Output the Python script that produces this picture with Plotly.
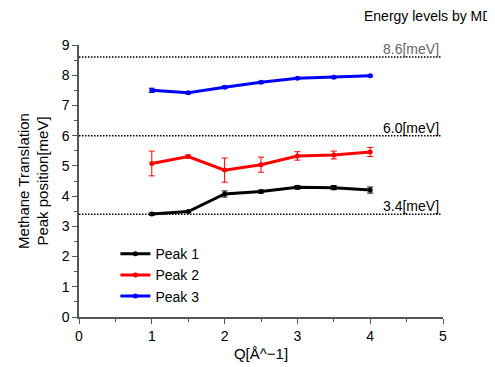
import plotly.graph_objects as go

q = [1.0, 1.5, 2.0, 2.5, 3.0, 3.5, 4.0]
peak1 = [3.41, 3.49, 4.07, 4.15, 4.29, 4.28, 4.20]
peak1_err = [0.04, 0.03, 0.10, 0.05, 0.06, 0.07, 0.10]
peak2 = [5.08, 5.31, 4.86, 5.04, 5.33, 5.36, 5.46]
peak2_err = [0.41, 0.05, 0.40, 0.25, 0.14, 0.13, 0.15]
peak3 = [7.50, 7.42, 7.60, 7.77, 7.90, 7.93, 7.98]
peak3_err = [0.07, 0.04, 0.04, 0.03, 0.03, 0.03, 0.03]

levels = [8.6, 6.0, 3.4]
level_labels = ["8.6[meV]", "6.0[meV]", "3.4[meV]"]
level_colors = ["#666666", "black", "black"]

series = [("Peak 1", peak1, peak1_err, "black"),
          ("Peak 2", peak2, peak2_err, "red"),
          ("Peak 3", peak3, peak3_err, "blue")]

FONT = "Liberation Sans, Arial, sans-serif"
fig = go.Figure()
for name, y, e, c in series:
    fig.add_trace(go.Scatter(
        x=q, y=y, name=name, mode="lines+markers",
        line=dict(color=c, width=3), marker=dict(color=c, size=5),
        error_y=dict(type="data", array=e, visible=True, color=c, thickness=1, width=3)))

for lv, lab, col in zip(levels, level_labels, level_colors):
    fig.add_shape(type="line", x0=0, x1=4.97, y0=lv, y1=lv, xref="x", yref="y",
                  line=dict(color="black", width=1.5, dash="1.5px,1.5px"))
    fig.add_annotation(x=4.97, y=lv, xref="x", yref="y", text=lab, showarrow=False,
                       xanchor="right", yanchor="bottom", yshift=-2,
                       font=dict(size=14, color=col, family=FONT))

fig.add_annotation(x=1.0, y=1.0, xref="paper", yref="paper", yshift=19, xshift=51,
                   text="Energy levels by MD", showarrow=False, xanchor="right",
                   yanchor="bottom", font=dict(size=14, color="black", family=FONT))
fig.add_annotation(x=4.65, y=9.07, xref="x", yref="y", ax=0, ay=-16, text="",
                   showarrow=True, arrowhead=2, arrowsize=1, arrowwidth=1, arrowcolor="black")

axis_common = dict(showline=True, linecolor="#555555", linewidth=1.5, ticks="outside",
                   ticklen=5, tickcolor="#555555", showgrid=False, zeroline=False,
                   tickfont=dict(size=14, color="black", family=FONT), mirror=False,
                   automargin=False)
fig.update_xaxes(range=[0, 5], dtick=1, title=dict(text="Q[Å^−1]", font=dict(size=15, family=FONT, color="black"), standoff=6),
                 minor=dict(ticks="outside", ticklen=3, dtick=0.5, tickcolor="#555555"), **axis_common)
fig.update_yaxes(range=[0, 9], dtick=1, title=dict(text="Methane Translation<br>Peak position[meV]", font=dict(size=15, family=FONT, color="black"), standoff=9),
                 minor=dict(ticks="outside", ticklen=3, dtick=0.5, tickcolor="#555555"), **axis_common)

# page body has an 8px margin, so the figure is sized/offset to land on the reference pixels
fig.update_layout(width=487, height=359, margin=dict(l=71, r=52, t=37, b=50, autoexpand=False),
                  plot_bgcolor="white", paper_bgcolor="white",
                  font=dict(family=FONT),
                  legend=dict(x=0.10, y=0.29, xanchor="left", yanchor="top",
                              bgcolor="rgba(0,0,0,0)", font=dict(size=14, color="black", family=FONT),
                              itemwidth=30, tracegroupgap=0))
fig.write_html("out.html")
